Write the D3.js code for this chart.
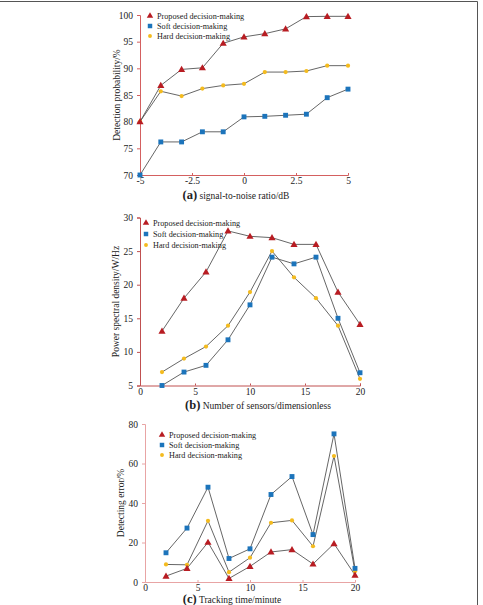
<!DOCTYPE html>
<html><head><meta charset="utf-8">
<script src="https://cdn.jsdelivr.net/npm/d3@7/dist/d3.min.js"></script>
<style>body{margin:0;background:#fff}svg{display:block}text{font-family:"Liberation Serif","Times New Roman",serif}</style>
</head><body>
<script>
const seriesNames = ["Proposed decision-making","Soft decision-making","Hard decision-making"];

const xA = [-5,-4,-3,-2,-1,0,1,2,3,4,5];
const proposedA = [80,86.8,89.8,90.1,94.7,95.9,96.5,97.4,99.7,99.75,99.75];
const softA = [70,76.2,76.2,78.1,78.1,80.9,81.0,81.2,81.4,84.5,86.1];
const hardA = [80,85.7,84.8,86.2,86.8,87.1,89.3,89.3,89.5,90.5,90.5];
const xTicksA = [-5,-2.5,0,2.5,5];
const yTicksA = [70,75,80,85,90,95,100];

const xB = [2,4,6,8,10,12,14,16,18,20];
const proposedB = [13.1,18,21.9,28,27.2,27,26,26,18.9,14.1];
const softB = [5,7,8,11.8,17,24.1,23.1,24.1,15,6.9];
const hardB = [7,9,10.8,13.9,18.9,25,21.1,18,13.9,6];
const xTicksB = [0,5,10,15,20];
const yTicksB = [5,10,15,20,25,30];

const xC = [2,4,6,8,10,12,14,16,18,20];
const proposedC = [3,6.9,20.1,1.8,7.9,15.2,16.4,9.1,19.4,3.5];
const softC = [14.8,27.3,48,11.9,16.8,44.3,53.4,24,75,6.9];
const hardC = [8.9,8.7,31,5,12.3,30,31.2,18.1,63.8,5.4];
const xTicksC = [0,5,10,15,20];
const yTicksC = [0,20,40,60,80];

const W = 483, H = 605;
const svg = d3.select("body").append("svg").attr("width", W).attr("height", H);

svg.append("line").attr("x1",0).attr("x2",477.5).attr("y1",1.5).attr("y2",1.5).attr("stroke","#555").attr("stroke-width",1);
svg.append("line").attr("x1",477.5).attr("x2",477.5).attr("y1",1.5).attr("y2",H).attr("stroke","#555").attr("stroke-width",1);

const colors = {prop:"#b81c22", soft:"#1c74bb", hard:"#f4bb1e", line:"#555"};
const SERIF = "'Liberation Serif','Times New Roman',serif";

function panel(cfg){
  const g = svg.append("g");
  const x = d3.scaleLinear().domain(cfg.xDomain).range([cfg.left, cfg.right]);
  const y = d3.scaleLinear().domain(cfg.yDomain).range([cfg.bottom, cfg.top]);
  const ya = g.append("g").attr("transform",`translate(${cfg.left},0)`)
    .call(d3.axisLeft(y).tickValues(cfg.yTicks).tickSize(3).tickPadding(4).tickFormat(d3.format("d")));
  const xa = g.append("g").attr("transform",`translate(0,${cfg.bottom})`)
    .call(d3.axisBottom(x).tickValues(cfg.xTicks).tickSize(-2).tickPadding(2.5).tickFormat(d=>d));
  [ya,xa].forEach(a=>{
    a.attr("font-family",SERIF);
    a.select(".domain").attr("stroke",cfg.axisColor).attr("stroke-width",1);
    a.selectAll(".tick line").attr("stroke",cfg.axisColor);
    a.selectAll(".tick text").attr("fill","#222").attr("font-size",9.5).attr("font-family",SERIF);
  });
  g.append("text").attr("transform",`translate(${cfg.yTitleX},${(cfg.top+cfg.bottom)/2}) rotate(-90)`)
    .attr("text-anchor","middle").attr("font-size",9.5).attr("fill","#222").attr("font-family",SERIF).text(cfg.yTitle);
  const t = g.append("text").attr("x",cfg.xTitleX).attr("y",cfg.xTitleY).attr("text-anchor","middle")
    .attr("fill","#222").attr("font-family",SERIF);
  t.append("tspan").attr("font-weight","bold").attr("font-size",12.5).text(cfg.label);
  t.append("tspan").attr("font-size",9.5).text(" "+cfg.xTitle);

  const line = d3.line().x((d,i)=>x(cfg.xs[i])).y(d=>y(d));
  [cfg.hard,cfg.soft,cfg.prop].forEach(vals=>{
    g.append("path").attr("d",line(vals)).attr("fill","none").attr("stroke",colors.line).attr("stroke-width",0.9);
  });
  const tri = d3.symbol().type(d3.symbolTriangle).size(22);
  const sq = d3.symbol().type(d3.symbolSquare).size(24);
  const dot = d3.symbol().type(d3.symbolCircle).size(14);
  g.selectAll(".hs").data(cfg.hard).join("path").attr("d",dot)
    .attr("transform",(d,i)=>`translate(${x(cfg.xs[i])},${y(d)})`).attr("fill",colors.hard);
  g.selectAll(".ss").data(cfg.soft).join("path").attr("d",sq)
    .attr("transform",(d,i)=>`translate(${x(cfg.xs[i])},${y(d)})`).attr("fill",colors.soft);
  g.selectAll(".ps").data(cfg.prop).join("path").attr("d",tri)
    .attr("transform",(d,i)=>`translate(${x(cfg.xs[i])},${y(d)+0.5})`).attr("fill",colors.prop);

  const types = [d3.symbolTriangle,d3.symbolSquare,d3.symbolCircle];
  const fills = [colors.prop,colors.soft,colors.hard];
  seriesNames.forEach((n,i)=>{
    const yy = cfg.legY + i*cfg.legStep;
    g.append("path").attr("d", d3.symbol().type(types[i]).size([18,20,12][i]))
      .attr("transform",`translate(${cfg.legX},${yy})`).attr("fill",fills[i]);
    g.append("text").attr("x",cfg.legX+7).attr("y",yy+3).attr("font-size",8.2).attr("fill","#222")
      .attr("font-family",SERIF).text(n);
  });
}

panel({xs:xA, prop:proposedA, soft:softA, hard:hardA, xDomain:[-5,5], yDomain:[70,100],
  xTicks:xTicksA, yTicks:yTicksA, left:140, right:348, top:15, bottom:175,
  axisColor:"#d46060", yTitle:"Detection probability/%", yTitleX:120,
  label:"(a)", xTitle:"signal-to-noise ratio/dB", xTitleX:236, xTitleY:199,
  legX:150, legY:16, legStep:10});

panel({xs:xB, prop:proposedB, soft:softB, hard:hardB, xDomain:[0,20], yDomain:[5,30],
  xTicks:xTicksB, yTicks:yTicksB, left:140, right:360, top:217.5, bottom:385.5,
  axisColor:"#c05050", yTitle:"Power spectral density/W/Hz", yTitleX:119,
  label:"(b)", xTitle:"Number of sensors/dimensionless", xTitleX:258, xTitleY:409,
  legX:146, legY:223, legStep:11});

panel({xs:xC, prop:proposedC, soft:softC, hard:hardC, xDomain:[0,20], yDomain:[0,80],
  xTicks:xTicksC, yTicks:yTicksC, left:145, right:355, top:424, bottom:582,
  axisColor:"#e8a4a4", yTitle:"Detecting error/%", yTitleX:124,
  label:"(c)", xTitle:"Tracking time/minute", xTitleX:232, xTitleY:602.5,
  legX:162, legY:435, legStep:10});
</script>
</body></html>
